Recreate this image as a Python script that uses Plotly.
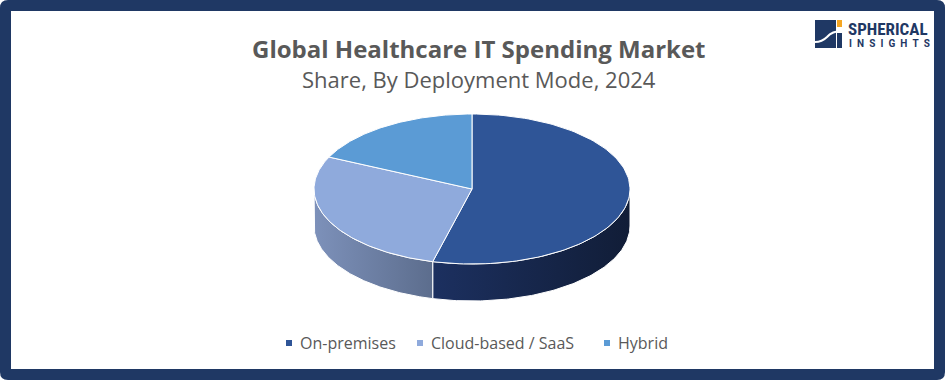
import math
import plotly.graph_objects as go

# ---- data ----
categories = ["On-premises", "Cloud-based / SaaS", "Hybrid"]
shares = [54, 28, 18]
top_colors = ["#2F5597", "#8FAADC", "#5B9BD5"]
side_scales = [
    [[0, "#1C3060"], [1, "#111D37"]],
    [[0, "#7D91BA"], [1, "#5C6D8D"]],
    [[0, "#4A7FB0"], [1, "#3A6A96"]],
]
title_text = "Global Healthcare IT Spending Market"
subtitle_text = "Share, By Deployment Mode, 2024"

W, H = 945, 380
cx, cy, rx, ry, depth = 472, 189, 158, 75, 37

def pt(theta_deg, dy=0):
    t = math.radians(theta_deg)
    return cx + rx * math.sin(t), cy - ry * math.cos(t) + dy

def arc(a, b, dy=0, n=120):
    xs, ys = [], []
    for i in range(n + 1):
        x, y = pt(a + (b - a) * i / n, dy)
        xs.append(x); ys.append(y)
    return xs, ys

fig = go.Figure()

total = sum(shares)
starts = []
acc = 0
for v in shares:
    starts.append((acc / total * 360, (acc + v) / total * 360))
    acc += v

# sides (front half only: 90..270 deg)
for i, (a, b) in enumerate(starts):
    lo, hi = max(a, 90), min(b, 270)
    if hi <= lo:
        continue
    xt, yt = arc(lo, hi)
    xb, yb = arc(hi, lo, depth)
    fig.add_trace(go.Scatter(
        x=xt + xb + [xt[0]], y=yt + yb + [yt[0]], mode="lines",
        fill="toself", line=dict(color="white", width=1),
        fillgradient=dict(type="horizontal", colorscale=side_scales[i]),
        hoverinfo="skip", showlegend=False))

# tops
for i, (a, b) in enumerate(starts):
    xs, ys = arc(a, b)
    xs = [cx] + xs + [cx]
    ys = [cy] + ys + [cy]
    fig.add_trace(go.Scatter(
        x=xs, y=ys, mode="lines", fill="toself", fillcolor=top_colors[i],
        line=dict(color="white", width=1), name=categories[i],
        hoverinfo="text", text=f"{categories[i]}: {shares[i]}%", showlegend=False))

shapes = [
    dict(type="path", xref="x", yref="y",
         path="M 8 0 L 937 0 Q 945 0 945 8 L 945 372 Q 945 380 937 380 L 8 380 Q 0 380 0 372 L 0 8 Q 0 0 8 0 Z",
         fillcolor="#1F3864", line=dict(width=0), layer="below"),
    dict(type="rect", xref="x", yref="y", x0=11, x1=934, y0=11, y1=369,
         fillcolor="white", line=dict(width=0), layer="below"),
    # logo icon
    dict(type="rect", xref="x", yref="y", x0=815, x1=836, y0=20, y1=48,
         fillcolor="#1F3864", line=dict(width=0)),
    dict(type="rect", xref="x", yref="y", x0=837, x1=842, y0=20, y1=27,
         fillcolor="#F5A623", line=dict(width=0)),
    dict(type="path", xref="x", yref="y",
         path="M 815 42 Q 822 42 827 37 Q 832 31 842 31",
         line=dict(color="white", width=2)),
    dict(type="rect", xref="x", yref="y", x0=837, x1=842, y0=33, y1=48,
         fillcolor="#1F3864", line=dict(width=0)),
]

legend_x = [286, 417, 604]
annotations = [
    dict(x=479, y=48, text=f"<b>{title_text}</b>", showarrow=False,
         font=dict(family="Open Sans", size=24, color="#595959"), xanchor="center", yanchor="middle"),
    dict(x=479, y=79, text=subtitle_text, showarrow=False,
         font=dict(family="Open Sans", size=22, color="#595959"), xanchor="center", yanchor="middle"),
    dict(x=888, y=29, text="<b>SPHERICAL</b>", showarrow=False,
         font=dict(family="Roboto Condensed, Liberation Sans Narrow, Roboto", size=17, color="#1F3864"),
         xanchor="center", yanchor="middle"),
    dict(x=889, y=43, text="<b>" + "\u2002".join("INSIGHTS") + "</b>", showarrow=False,
         font=dict(family="Roboto", size=10, color="#1F3864"), xanchor="center", yanchor="middle"),
]
for i, c in enumerate(categories):
    lx = legend_x[i]
    shapes.append(dict(type="rect", xref="x", yref="y", x0=lx, x1=lx + 6, y0=340, y1=346,
                       fillcolor=top_colors[i], line=dict(width=0)))
    annotations.append(dict(x=lx + 12, y=343, text=c, showarrow=False, xanchor="left", yanchor="middle",
                            font=dict(family="Open Sans", size=16, color="#595959")))

fig.update_layout(
    width=W, height=H, margin=dict(l=0, r=0, t=0, b=0),
    paper_bgcolor="white", plot_bgcolor="rgba(0,0,0,0)",
    xaxis=dict(range=[0, W], visible=False, fixedrange=True),
    yaxis=dict(range=[H, 0], visible=False, fixedrange=True),
    shapes=shapes, annotations=annotations,
    showlegend=False,
)

fig.write_html("out.html", config={"displayModeBar": False},
               post_script="document.body.style.margin='0';document.body.style.overflow='hidden';")
